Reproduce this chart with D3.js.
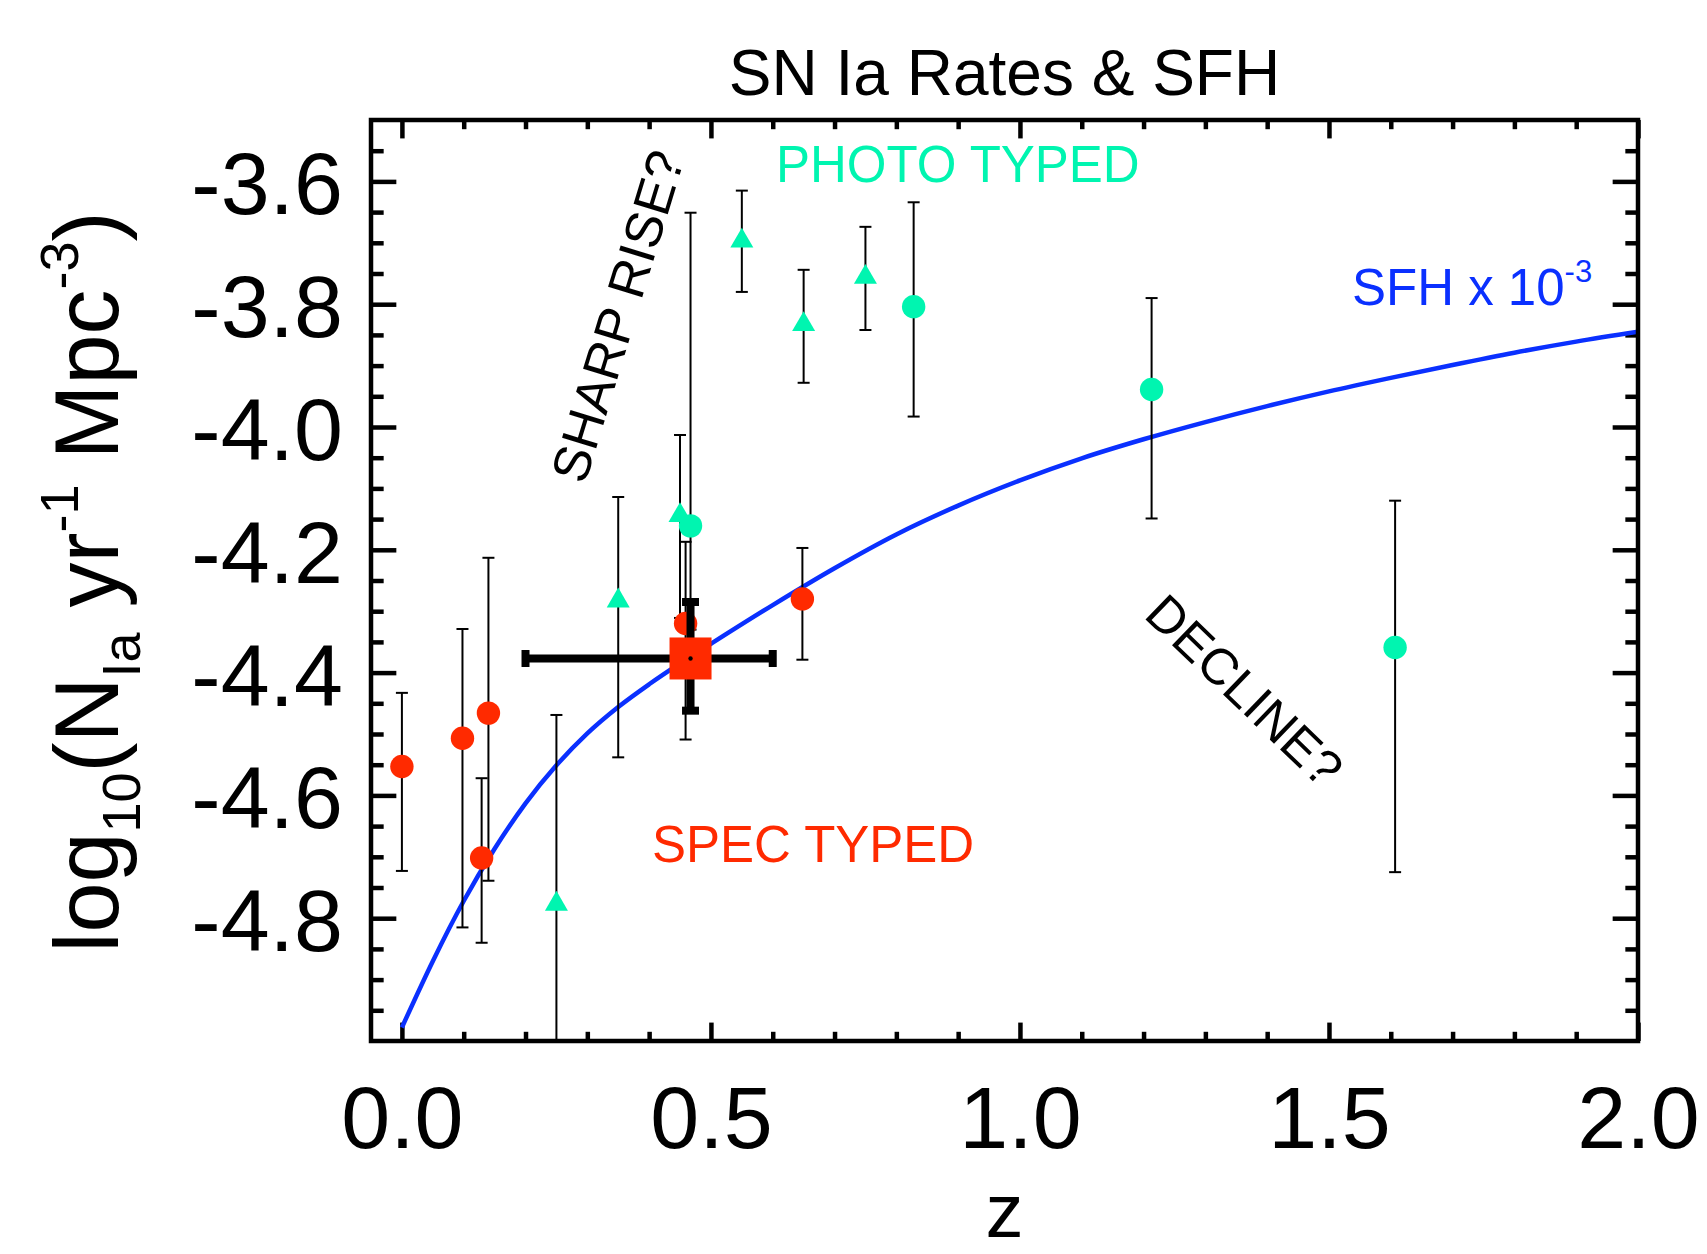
<!DOCTYPE html>
<html>
<head>
<meta charset="utf-8">
<script src="https://cdn.jsdelivr.net/npm/d3@7"></script>
<style>
  body { margin: 0; background: #fff; }
  text { font-family: "Liberation Sans", Arial, Helvetica, sans-serif; white-space: pre; }
</style>
</head>
<body>
<div id="chart"></div>
<script>
// spec typed rates (red circles)
const specZ = [0.0, 0.098, 0.14, 0.129, 0.459, 0.648];
const specRate = [-4.553, -4.507, -4.466, -4.702, -4.320, -4.280];
const specLow = [-4.723, -4.815, -4.739, -4.840, -4.509, -4.379];
const specHigh = [-4.433, -4.329, -4.213, -4.572, -4.187, -4.197];

// photo typed rates, triangles
const triZ = [0.25, 0.35, 0.45, 0.55, 0.65, 0.75];
const triRate = [-4.777, -4.283, -4.144, -3.697, -3.833, -3.756];
const triLow = [-5.2, -4.538, -4.311, -3.780, -3.928, -3.842];
const triHigh = [-4.469, -4.114, -4.013, -3.615, -3.744, -3.674];

// photo typed rates, circles
const circZ = [0.467, 0.828, 1.213, 1.607];
const circRate = [-4.161, -3.804, -3.939, -4.359];
const circLow = [-4.33, -3.983, -4.149, -4.725];
const circHigh = [-3.651, -3.634, -3.790, -4.120];

// this work (big square) with z range and rate range
const sqZ = [0.467];
const sqRate = [-4.377];
const sqZLow = [0.2];
const sqZHigh = [0.6];
const sqLow = [-4.462];
const sqHigh = [-4.285];

// SFH x 1e-3 curve
const sfhZ = [0.0, 0.05, 0.1, 0.15, 0.2, 0.25, 0.3, 0.35, 0.4, 0.45, 0.5, 0.6, 0.7, 0.8, 0.9, 1.0,
  1.1, 1.2, 1.3, 1.4, 1.5, 1.6, 1.7, 1.8, 1.9, 2.0];
const sfhRate = [-4.978, -4.87, -4.772, -4.687, -4.613, -4.551, -4.499, -4.456, -4.419, -4.385, -4.353,
  -4.29, -4.23, -4.175, -4.128, -4.087, -4.051, -4.02, -3.992, -3.966, -3.942, -3.92, -3.899,
  -3.879, -3.861, -3.845];

// tick labels
const xTicks = [0.0, 0.5, 1.0, 1.5, 2.0];
const yTicks = [-4.8, -4.6, -4.4, -4.2, -4.0, -3.8, -3.6];

const RED = "#ff2a00", GREEN = "#00f5b0", BLUE = "#0a30ff";

// svg overall size
const W = 1707, H = 1254;
const margin = { top: 120, right: 69, bottom: 213, left: 371 },
  width = W - margin.left - margin.right,
  height = H - margin.top - margin.bottom;

const root = d3.select("#chart").append("svg")
  .attr("width", W).attr("height", H)
  .attr("viewBox", `0 0 ${W} ${H}`);
root.append("rect").attr("width", W).attr("height", H).attr("fill", "#fff");

const svg = root.append("g")
  .attr("transform", "translate(" + margin.left + "," + margin.top + ")");

const x = d3.scaleLinear().domain([-0.05, 2.0]).range([0, width]);
const y = d3.scaleLinear().domain([-5.0, -3.5]).range([height, 0]);

// IDL style tick lengths: 2% of the plot size
const xMajorLen = 0.02 * height, yMajorLen = 0.02 * width;
// minor ticks: every 0.1 in z, every 0.05 in rate, skipping the majors
const xMinor = d3.range(0, 20).map(i => i / 10)
  .filter(v => Math.abs(v * 2 - Math.round(v * 2)) > 1e-6);
const yMinor = d3.range(1, 30).map(i => -5.0 + i * 0.05)
  .filter(v => Math.abs(v * 5 - Math.round(v * 5)) > 1e-6);
const yMajor = yTicks;

function styleAxis(g) {
  g.select(".domain").remove();
  g.selectAll("line").attr("stroke", "#000").attr("stroke-width", 4.5);
}

// bottom axis with labels
svg.append("g")
  .attr("transform", "translate(0," + height + ")")
  .call(d3.axisBottom(x).tickValues(xTicks).tickSize(-xMajorLen).tickPadding(45)
    .tickFormat(d3.format(".1f")))
  .call(styleAxis)
  .call(g => g.selectAll("text").attr("font-size", 88).attr("fill", "#000")
    .attr("font-family", "Liberation Sans, Arial, sans-serif"));
svg.append("g")
  .attr("transform", "translate(0," + height + ")")
  .call(d3.axisBottom(x).tickValues(xMinor).tickSize(-xMajorLen / 2).tickFormat(""))
  .call(styleAxis);

// top axis, ticks only
svg.append("g")
  .call(d3.axisTop(x).tickValues(xTicks).tickSize(-xMajorLen).tickFormat(""))
  .call(styleAxis);
svg.append("g")
  .call(d3.axisTop(x).tickValues(xMinor).tickSize(-xMajorLen / 2).tickFormat(""))
  .call(styleAxis);

// left axis with labels
svg.append("g")
  .call(d3.axisLeft(y).tickValues(yMajor).tickSize(-yMajorLen).tickPadding(28)
    .tickFormat(d => d.toFixed(1)))
  .call(styleAxis)
  .call(g => g.selectAll("text").attr("font-size", 88).attr("fill", "#000").attr("dy", "0.37em")
    .attr("font-family", "Liberation Sans, Arial, sans-serif"));
svg.append("g")
  .call(d3.axisLeft(y).tickValues(yMinor).tickSize(-yMajorLen / 2).tickFormat(""))
  .call(styleAxis);

// right axis, ticks only
svg.append("g")
  .attr("transform", "translate(" + width + ",0)")
  .call(d3.axisRight(y).tickValues(yMajor).tickSize(-yMajorLen).tickFormat(""))
  .call(styleAxis);
svg.append("g")
  .attr("transform", "translate(" + width + ",0)")
  .call(d3.axisRight(y).tickValues(yMinor).tickSize(-yMajorLen / 2).tickFormat(""))
  .call(styleAxis);

// clip to plot box
svg.append("defs").append("clipPath").attr("id", "plotClip")
  .append("rect").attr("width", width).attr("height", height);

const body = svg.append("g").attr("clip-path", "url(#plotClip)");

// SFH curve
body.append("path")
  .datum(sfhZ.map((z, i) => [z, sfhRate[i]]))
  .attr("fill", "none")
  .attr("stroke", BLUE)
  .attr("stroke-width", 4.5)
  .attr("d", d3.line().x(d => x(d[0])).y(d => y(d[1])).curve(d3.curveMonotoneX));

// thin error bars
const errData = []
  .concat(specZ.map((z, i) => ({ z, lo: specLow[i], hi: specHigh[i] })))
  .concat(triZ.map((z, i) => ({ z, lo: triLow[i], hi: triHigh[i] })))
  .concat(circZ.map((z, i) => ({ z, lo: circLow[i], hi: circHigh[i] })));
const capW = 6;
const eb = body.append("g").attr("stroke", "#000").attr("stroke-width", 2);
errData.forEach(d => {
  eb.append("line").attr("x1", x(d.z)).attr("x2", x(d.z)).attr("y1", y(d.lo)).attr("y2", y(d.hi));
  [d.lo, d.hi].forEach(v => eb.append("line")
    .attr("x1", x(d.z) - capW).attr("x2", x(d.z) + capW).attr("y1", y(v)).attr("y2", y(v)));
});

// markers
body.selectAll(".spec")
  .data(specZ.map((z, i) => [z, specRate[i]]))
  .join("circle")
  .attr("class", "spec")
  .attr("cx", d => x(d[0])).attr("cy", d => y(d[1])).attr("r", 11.7)
  .attr("fill", RED);

const tri = d3.symbol().type(d3.symbolTriangle).size(Math.sqrt(3) / 4 * 23 * 23);
body.selectAll(".tri")
  .data(triZ.map((z, i) => [z, triRate[i]]))
  .join("path")
  .attr("class", "tri")
  .attr("transform", d => `translate(${x(d[0])},${y(d[1])})`)
  .attr("d", tri)
  .attr("fill", GREEN);

body.selectAll(".circ")
  .data(circZ.map((z, i) => [z, circRate[i]]))
  .join("circle")
  .attr("class", "circ")
  .attr("cx", d => x(d[0])).attr("cy", d => y(d[1])).attr("r", 11.7)
  .attr("fill", GREEN);

// thick error bars for the square
const tb = body.append("g").attr("stroke", "#000").attr("stroke-width", 8);
sqZ.forEach((z, i) => {
  const cx = x(z), cy = y(sqRate[i]);
  tb.append("line").attr("x1", x(sqZLow[i])).attr("x2", x(sqZHigh[i])).attr("y1", cy).attr("y2", cy);
  tb.append("line").attr("x1", cx).attr("x2", cx).attr("y1", y(sqLow[i])).attr("y2", y(sqHigh[i]));
  [sqZLow[i], sqZHigh[i]].forEach(v => tb.append("line")
    .attr("x1", x(v)).attr("x2", x(v)).attr("y1", cy - 8.5).attr("y2", cy + 8.5));
  [sqLow[i], sqHigh[i]].forEach(v => tb.append("line")
    .attr("x1", cx - 8.5).attr("x2", cx + 8.5).attr("y1", y(v)).attr("y2", y(v)));
  body.append("rect")
    .attr("x", cx - 21).attr("y", cy - 21).attr("width", 42).attr("height", 42)
    .attr("fill", RED);
  body.append("circle").attr("cx", cx).attr("cy", cy).attr("r", 2.2).attr("fill", "#000");
});

// frame
svg.append("rect")
  .attr("width", width).attr("height", height)
  .attr("fill", "none").attr("stroke", "#000").attr("stroke-width", 4.5);

// annotations
function txt(sx, sy, str, size, color, rot) {
  return root.append("text")
    .attr("transform", `translate(${sx},${sy}) rotate(${rot || 0})`)
    .attr("font-size", size).attr("fill", color)
    .text(str);
}
txt(776, 182, "PHOTO TYPED", 51, GREEN);
txt(652, 862, "SPEC TYPED", 51, RED);
txt(617, 316, "SHARP RISE?", 52, "#000", -73).attr("text-anchor", "middle").attr("dy", "0.36em");
txt(1245, 690, "DECLINE?", 51, "#000", 44).attr("text-anchor", "middle").attr("dy", "0.36em");

const sfh = txt(1352, 305, "SFH x 10", 51, BLUE);
sfh.append("tspan").attr("font-size", 31).attr("dy", -23).text("-3");

// title
root.append("text")
  .attr("x", margin.left + width / 2).attr("y", 95)
  .attr("text-anchor", "middle").attr("font-size", 64)
  .text("SN Ia Rates & SFH");

// x title (sized to fit between tick labels and the bottom edge)
root.append("text")
  .attr("x", margin.left + width / 2).attr("y", 1237)
  .attr("text-anchor", "middle").attr("font-size", 76)
  .text("z");

// y title with sub/superscripts
const yt = root.append("text")
  .attr("transform", "translate(118,582) rotate(-90)")
  .attr("text-anchor", "middle").attr("font-size", 90);
const parts = [
  ["log", 90, 0], ["10", 54, 22], ["(N", 90, -22], ["Ia", 54, 22], [" yr", 90, -22],
  ["-1", 54, -40], [" Mpc", 90, 40], ["-3", 54, -40], [")", 90, 40]
];
parts.forEach(p => yt.append("tspan").attr("font-size", p[1]).attr("dy", p[2]).text(p[0]));
</script>
</body>
</html>
